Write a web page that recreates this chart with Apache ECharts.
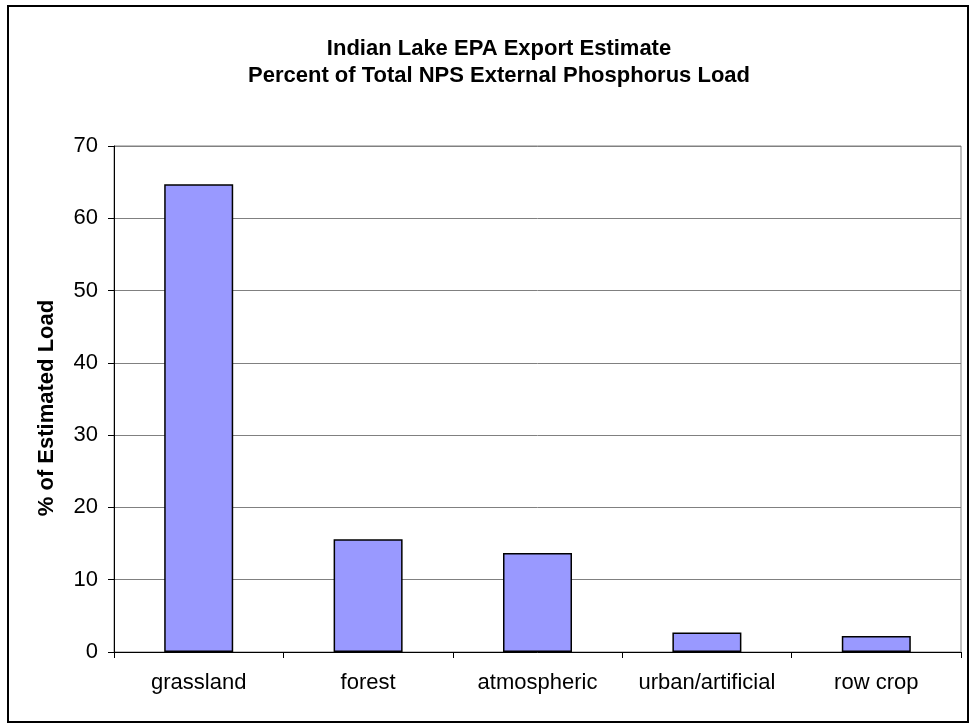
<!DOCTYPE html>
<html>
<head>
<meta charset="utf-8">
<title>Indian Lake EPA Export Estimate</title>
<script src="https://cdn.jsdelivr.net/npm/echarts@6/dist/echarts.min.js"></script>
<style>
  html, body { margin: 0; padding: 0; background: #fff; }
  #chart { width: 969px; height: 725px; }
</style>
</head>
<body>
<div id="chart"></div>
<script>
// 数据
const categories = ["grassland", "forest", "atmospheric", "urban/artificial", "row crop"];
const loadPercent = [64.7, 15.6, 13.7, 2.7, 2.2];
const yTicks = [0, 10, 20, 30, 40, 50, 60, 70];

const fontFamily = "Liberation Sans, Arial, sans-serif";

const chart = echarts.init(document.getElementById("chart"));

const option = {
  backgroundColor: "#fff",
  animation: false,
  title: {
    text: "Indian Lake EPA Export Estimate\nPercent of Total NPS External Phosphorus Load",
    left: 494,
    textAlign: "center",
    top: 30,
    textStyle: {
      fontFamily: fontFamily,
      fontSize: 22,
      fontWeight: "bold",
      color: "#000",
      lineHeight: 27,
    },
  },
  // 外框
  graphic: [
    {
      type: "rect",
      shape: { x: 8, y: 6, width: 960, height: 716 },
      style: { fill: null, stroke: "#000", lineWidth: 2 },
      silent: true,
    },
  ],
  grid: {
    left: 114,
    right: 8,
    top: 146,
    bottom: 73,
    show: true,
    borderColor: "#808080",
    borderWidth: 1,
    backgroundColor: "transparent",
  },
  xAxis: {
    type: "category",
    data: categories,
    axisLine: { lineStyle: { color: "#000", width: 1 } },
    axisTick: { show: true, interval: 0, length: 6, lineStyle: { color: "#000" } },
    axisLabel: {
      interval: 0,
      color: "#000",
      fontFamily: fontFamily,
      fontSize: 22,
      margin: 20,
    },
    splitLine: { show: false },
  },
  yAxis: {
    type: "value",
    min: yTicks[0],
    max: yTicks[yTicks.length - 1],
    interval: 10,
    name: "% of Estimated Load",
    nameLocation: "middle",
    nameRotate: 90,
    nameGap: 56,
    nameTextStyle: {
      fontFamily: fontFamily,
      fontSize: 22,
      fontWeight: "bold",
      color: "#000",
      padding: [0, 18, 0, 0],
    },
    axisLine: { show: true, lineStyle: { color: "#000", width: 1 } },
    axisTick: { show: true, length: 6, lineStyle: { color: "#000" } },
    axisLabel: {
      color: "#000",
      fontFamily: fontFamily,
      fontSize: 22,
      margin: 16,
    },
    splitLine: { show: true, lineStyle: { color: "#808080", width: 1 } },
  },
  series: [
    {
      name: "% of Estimated Load",
      type: "bar",
      data: loadPercent,
      barWidth: 69,
      itemStyle: {
        color: "#9999FF",
        borderColor: "#000",
        borderWidth: 1.5,
      },
    },
  ],
};

chart.setOption(option);
window.addEventListener("resize", () => chart.resize());
</script>
</body>
</html>
